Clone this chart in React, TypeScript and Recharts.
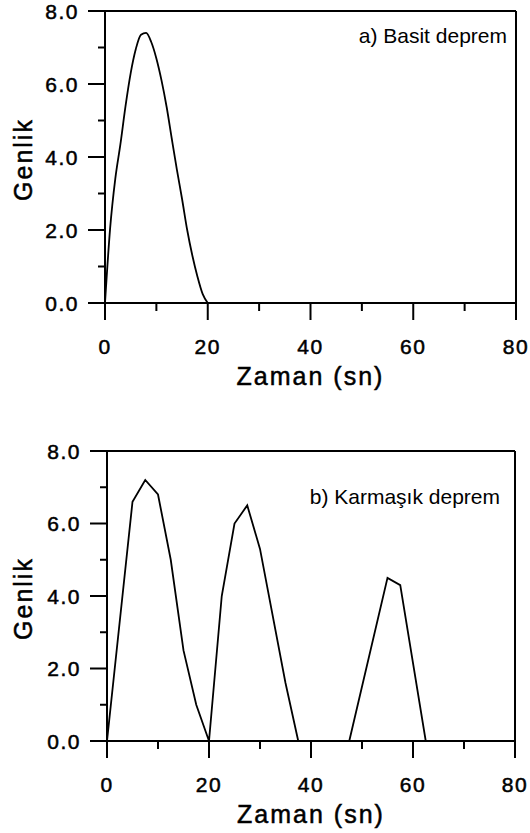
import React from "react";
import { LineChart, Line, XAxis, YAxis, ReferenceLine } from "recharts";

// a) simple event: one smooth pulse
const basitTime = [0, 1, 2, 3, 4, 5, 6, 7, 8, 9, 10, 11, 12, 13, 14, 15, 16, 17, 18, 19, 20];
const basitAmp = [0, 2.05, 3.4, 4.35, 5.4, 6.3, 6.96, 7.35, 7.4, 7.15, 6.7, 6.1, 5.37, 4.5, 3.65, 2.85, 2.0, 1.3, 0.72, 0.25, 0];

// b) complex event: three pulses, straight segments
const karmasikTime = [0, 5, 7.5, 10, 12.5, 15, 17.5, 20, 22.5, 25, 27.5, 30, 35, 37.5, 47.5, 55, 57.5, 62.5, 80];
const karmasikAmp = [0, 6.6, 7.2, 6.8, 5.0, 2.5, 1.0, 0, 4.0, 6.0, 6.5, 5.3, 1.6, 0, 0, 4.5, 4.3, 0, 0];

const xTicks = [0, 10, 20, 30, 40, 50, 60, 70, 80];
const yTicks = [0, 1, 2, 3, 4, 5, 6, 7, 8];

const FONT = '"Liberation Sans", Arial, Helvetica, sans-serif';

const toRows = (t: number[], a: number[]) => t.map((time, i) => ({ time, amp: a[i] }));

const XTick = (props: any) => {
  const { x, y, payload } = props;
  const major = payload.value % 20 === 0;
  return (
    <g>
      <line x1={x} y1={y} x2={x} y2={y + (major ? 17 : 8)} stroke="#000" strokeWidth={2} />
      {major && (
        <text
          x={x}
          y={y + 51}
          textAnchor="middle"
          fontFamily={FONT}
          fontSize={21}
          letterSpacing={1.5}
          fill="#000"
          stroke="#000"
          strokeWidth={0.5}
        >
          {payload.value}
        </text>
      )}
    </g>
  );
};

const YTick = (props: any) => {
  const { x, y, payload } = props;
  const major = payload.value % 2 === 0;
  return (
    <g>
      <line x1={x} y1={y} x2={x - (major ? 17 : 7)} y2={y} stroke="#000" strokeWidth={2} />
      {major && (
        <text
          x={x - 26}
          y={y + 7.5}
          textAnchor="end"
          fontFamily={FONT}
          fontSize={21}
          letterSpacing={1.5}
          fill="#000"
          stroke="#000"
          strokeWidth={0.5}
        >
          {payload.value.toFixed(1)}
        </text>
      )}
    </g>
  );
};

interface PanelProps {
  top: number;
  height: number;
  plotLeft: number;
  plotRight: number;
  plotTop: number;
  plotBottom: number;
  rows: { time: number; amp: number }[];
  curve: "monotone" | "linear";
  note: string;
  noteRight: number;
  noteY: number;
}

function Panel({ top, height, plotLeft, plotRight, plotTop, plotBottom, rows, curve, note, noteRight, noteY }: PanelProps) {
  const xAxisHeight = height - plotBottom;
  const midX = (plotLeft + plotRight) / 2;
  const midY = top + (plotTop + plotBottom) / 2;
  return (
    <>
      <div style={{ position: "absolute", left: 0, top }}>
        <LineChart
          width={530}
          height={height}
          data={rows}
          margin={{ top: plotTop, right: 530 - plotRight, bottom: 0, left: 0 }}
        >
          <XAxis
            dataKey="time"
            type="number"
            domain={[0, 80]}
            ticks={xTicks}
            interval={0}
            height={xAxisHeight}
            tickSize={0}
            tickMargin={0}
            tickLine={false}
            axisLine={{ stroke: "#000", strokeWidth: 2 }}
            tick={<XTick />}
          />
          <YAxis
            type="number"
            domain={[0, 8]}
            ticks={yTicks}
            interval={0}
            width={plotLeft}
            tickSize={0}
            tickMargin={0}
            tickLine={false}
            axisLine={{ stroke: "#000", strokeWidth: 2 }}
            tick={<YTick />}
          />
          <ReferenceLine y={8} stroke="#000" strokeWidth={2} />
          <ReferenceLine x={80} stroke="#000" strokeWidth={2} />
          <Line
            type={curve}
            dataKey="amp"
            stroke="#000"
            strokeWidth={1.8}
            dot={false}
            activeDot={false}
            isAnimationActive={false}
          />
        </LineChart>
      </div>
      <div
        style={{
          position: "absolute",
          right: 530 - noteRight,
          top: top + noteY - 10,
          fontFamily: FONT,
          fontSize: 21,
          lineHeight: "21px",
          whiteSpace: "nowrap",
          color: "#000",
        }}
      >
        {note}
      </div>
      <div
        style={{
          position: "absolute",
          left: midX - 150,
          width: 300,
          top: top + plotBottom + 73 - 12,
          textAlign: "center",
          fontFamily: FONT,
          fontSize: 25,
          lineHeight: "25px",
          letterSpacing: 2,
          color: "#000",
          WebkitTextStroke: "0.5px #000",
        }}
      >
        Zaman (sn)
      </div>
      <div
        style={{
          position: "absolute",
          left: 23 - 80,
          width: 160,
          top: midY + 2 - 12.5,
          height: 25,
          textAlign: "center",
          transform: "rotate(-90deg)",
          fontFamily: FONT,
          fontSize: 25,
          lineHeight: "25px",
          letterSpacing: 2,
          color: "#000",
          WebkitTextStroke: "0.5px #000",
        }}
      >
        Genlik
      </div>
    </>
  );
}

export default function App() {
  return (
    <div style={{ position: "absolute", left: 0, top: 0, width: 530, height: 833, background: "#fff", overflow: "hidden" }}>
      <Panel
        top={0}
        height={400}
        plotLeft={105}
        plotRight={516}
        plotTop={11}
        plotBottom={303}
        rows={toRows(basitTime, basitAmp)}
        curve="monotone"
        note="a) Basit deprem"
        noteRight={507}
        noteY={35}
      />
      <Panel
        top={440}
        height={393}
        plotLeft={107}
        plotRight={515}
        plotTop={11}
        plotBottom={301}
        rows={toRows(karmasikTime, karmasikAmp)}
        curve="linear"
        note="b) Karmaşık deprem"
        noteRight={500}
        noteY={56}
      />
    </div>
  );
}
